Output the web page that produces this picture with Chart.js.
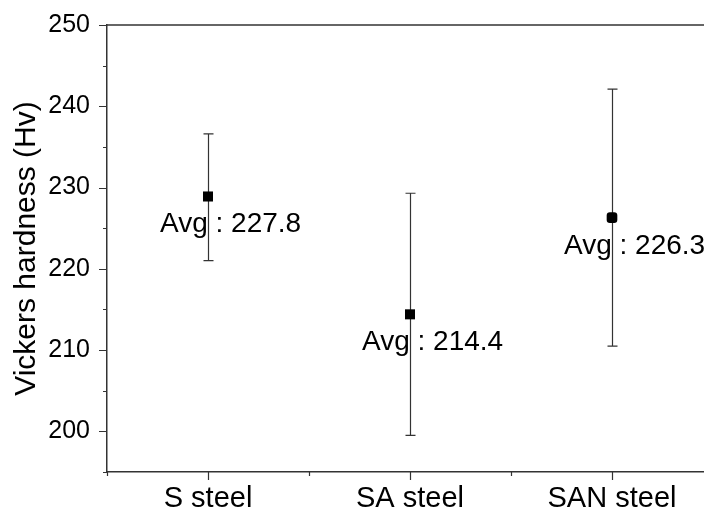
<!DOCTYPE html>
<html>
<head>
<meta charset="utf-8">
<script src="https://cdn.jsdelivr.net/npm/chart.js@4.4.0/dist/chart.umd.min.js"></script>
<style>
  html, body { margin: 0; padding: 0; background: #ffffff; overflow: hidden; }
  #wrap { width: 730px; height: 513px; }
</style>
</head>
<body>
<div id="wrap"><canvas id="c" width="730" height="513"></canvas></div>
<script>
// ---- data ----
const categories = ['S steel', 'SA steel', 'SAN steel'];
const meanValues = [228.9, 214.4, 226.3];
const errUpper = [236.6, 229.3, 242.1];
const errLower = [221.0, 199.5, 210.5];
const avgLabels = ['227.8', '214.4', '226.3'];
const yTickValues = [200, 210, 220, 230, 240, 250];
const yMinorValues = [195, 205, 215, 225, 235, 245];
const xMinorValues = [-0.5, 0.5, 1.5, 2.5];

const FONT = "'Liberation Sans', Arial, sans-serif";
const AXIS_COLOR = '#333333';

const points = categories.map((c, i) => ({ x: i, y: meanValues[i] }));

const decorPlugin = {
  id: 'decor',
  beforeDatasetsDraw(chart) {
    const { ctx } = chart;
    const xs = chart.scales.x, ys = chart.scales.y;
    ctx.save();
    ctx.strokeStyle = AXIS_COLOR;
    ctx.lineWidth = 1.2;
    categories.forEach((c, i) => {
      const px = Math.round(xs.getPixelForValue(i)) + 0.5;
      const top = ys.getPixelForValue(errUpper[i]);
      const bot = ys.getPixelForValue(errLower[i]);
      ctx.beginPath();
      ctx.moveTo(px, top); ctx.lineTo(px, bot);
      ctx.moveTo(px - 5, top); ctx.lineTo(px + 5, top);
      ctx.moveTo(px - 5, bot); ctx.lineTo(px + 5, bot);
      ctx.stroke();
    });
    ctx.restore();
  },
  afterDatasetsDraw(chart) {
    const { ctx, chartArea } = chart;
    const xs = chart.scales.x, ys = chart.scales.y;
    ctx.save();
    // top frame line
    ctx.strokeStyle = AXIS_COLOR;
    ctx.lineWidth = 1.5;
    ctx.beginPath();
    ctx.moveTo(chartArea.left, chartArea.top);
    ctx.lineTo(chartArea.right, chartArea.top);
    ctx.stroke();
    // y ticks (outward)
    ctx.lineWidth = 1.2;
    ctx.beginPath();
    yTickValues.forEach(v => {
      const py = Math.round(ys.getPixelForValue(v)) + 0.5;
      ctx.moveTo(chartArea.left - 8, py); ctx.lineTo(chartArea.left, py);
    });
    yMinorValues.forEach(v => {
      const py = Math.round(ys.getPixelForValue(v)) + 0.5;
      ctx.moveTo(chartArea.left - 4, py); ctx.lineTo(chartArea.left, py);
    });
    // x ticks (outward)
    categories.forEach((c, i) => {
      const px = Math.round(xs.getPixelForValue(i)) + 0.5;
      ctx.moveTo(px, chartArea.bottom); ctx.lineTo(px, chartArea.bottom + 8);
    });
    xMinorValues.forEach(v => {
      const px = Math.round(xs.getPixelForValue(v)) + 0.5;
      ctx.moveTo(px, chartArea.bottom); ctx.lineTo(px, chartArea.bottom + 4);
    });
    ctx.stroke();
    // avg labels
    ctx.fillStyle = '#000000';
    ctx.font = '28px ' + FONT;
    ctx.textAlign = 'left';
    ctx.textBaseline = 'alphabetic';
    categories.forEach((c, i) => {
      const px = xs.getPixelForValue(i);
      const py = ys.getPixelForValue(meanValues[i]);
      ctx.fillText('Avg : ' + avgLabels[i], px - 48, py + 36);
    });
    ctx.restore();
  }
};

new Chart(document.getElementById('c'), {
  type: 'scatter',
  data: {
    datasets: [{
      data: points,
      pointStyle: ['rect', 'rect', 'rectRounded'],
      pointRadius: [7.1, 7.1, 6.2],
      pointHoverRadius: [7.1, 7.1, 6.2],
      backgroundColor: '#000000',
      borderColor: '#000000',
      borderWidth: 0,
      showLine: false
    }]
  },
  options: {
    responsive: false,
    animation: false,
    layout: { padding: { top: 25, right: 17, left: 0, bottom: 0 } },
    plugins: { legend: { display: false }, tooltip: { enabled: false } },
    scales: {
      x: {
        type: 'linear',
        min: -0.5,
        max: 2.5,
        afterBuildTicks: s => { s.ticks = categories.map((c, i) => ({ value: i })); },
        afterFit: s => { s.height = 41; s.paddingLeft = 0; s.paddingRight = 0; },
        grid: { display: false, drawTicks: false },
        border: { display: true, color: AXIS_COLOR, width: 1.5 },
        ticks: {
          autoSkip: false,
          maxRotation: 0,
          padding: 10,
          color: '#000000',
          font: { family: FONT, size: 29 },
          callback: v => categories[v]
        }
      },
      y: {
        type: 'linear',
        min: 195,
        max: 250,
        afterBuildTicks: s => { s.ticks = yTickValues.map(v => ({ value: v })); },
        afterFit: s => { s.width = 107; s.paddingTop = 0; s.paddingBottom = 0; },
        grid: { display: false, drawTicks: false },
        border: { display: true, color: AXIS_COLOR, width: 1.5 },
        ticks: {
          padding: 17,
          color: '#000000',
          font: { family: FONT, size: 25 }
        },
        title: {
          display: true,
          text: 'Vickers hardness (Hv)',
          color: '#000000',
          font: { family: FONT, size: 30 },
          padding: { top: 9, bottom: 0 }
        }
      }
    }
  },
  plugins: [decorPlugin]
});
</script>
</body>
</html>
